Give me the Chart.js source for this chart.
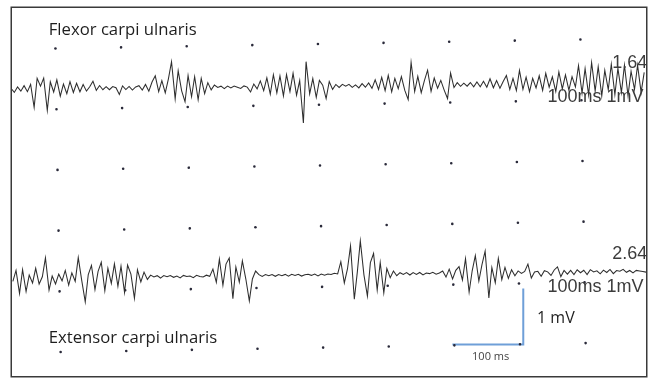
<!DOCTYPE html>
<html>
<head>
<meta charset="utf-8">
<title>EMG – flexor / extensor carpi ulnaris</title>
<script src="https://cdn.jsdelivr.net/npm/chart.js@4.4.0/dist/chart.umd.min.js"></script>
<style>
  html, body { margin: 0; padding: 0; background: #fff; }
  #emg { display: block; }
</style>
</head>
<body>
<canvas id="emg" width="654" height="380"></canvas>
<script>
// ---- data ----
// one sample every 5 ms, amplitude in mV relative to each trace's baseline
const SAMPLE_MS = 5;

const flexorMv = [
  0.02,-0.05,0.04,-0.03,0.06,-0.04,0.08,-0.30,0.18,0.05,
  0.18,-0.35,0.12,-0.05,0.15,-0.12,0.08,-0.08,0.12,-0.06,
  0.09,-0.05,0.07,-0.04,0.03,0.12,-0.03,0.05,-0.02,0.03,
  -0.02,0.03,0.01,-0.10,0.04,-0.02,0.03,-0.03,0.02,0.04,
  -0.03,0.06,-0.05,0.10,0.20,-0.06,0.12,-0.08,0.15,0.43,
  -0.18,0.28,-0.05,-0.23,0.20,-0.15,0.18,-0.20,0.15,-0.10,
  0.08,-0.04,0.04,0.00,0.02,-0.02,0.02,-0.01,0.02,0.00,
  -0.02,0.02,0.00,-0.08,0.05,-0.03,0.10,-0.06,0.15,-0.12,
  0.20,-0.10,0.18,-0.15,0.20,-0.08,0.22,-0.14,0.10,-0.60,
  0.41,-0.12,0.13,-0.18,0.10,0.02,-0.20,0.08,-0.05,0.03,
  -0.02,0.03,0.00,0.03,-0.02,0.02,-0.03,0.04,-0.02,0.05,
  -0.04,0.10,-0.06,0.14,-0.08,0.17,-0.10,0.12,-0.05,0.15,
  -0.08,-0.23,0.38,-0.10,0.15,-0.12,0.08,0.25,-0.10,0.12,
  -0.05,0.08,-0.08,-0.22,0.20,-0.04,0.04,-0.02,0.03,-0.02,
  0.04,-0.03,0.05,-0.03,0.06,-0.04,0.10,-0.05,0.07,-0.06,
  0.05,0.15,-0.08,0.10,-0.10,0.23,-0.08,0.12,-0.12,0.10,
  -0.06,0.14,-0.10,0.18,-0.05,0.12,-0.12,0.20,-0.08,0.15,
  -0.10,0.12,-0.05,0.30,-0.15,0.25,-0.18,0.35,-0.12,0.28,
  -0.20,0.22,-0.10,0.32,-0.18,0.25,-0.15,0.30,-0.20,0.20,
  -0.10,0.30,-0.15,0.18
];

const extensorMv = [
  -0.05,0.13,-0.25,0.14,-0.22,0.05,-0.08,0.16,-0.10,0.02,
  0.33,-0.20,0.03,-0.10,0.06,-0.05,0.12,-0.12,0.08,-0.06,
  0.33,-0.05,-0.40,0.05,0.20,-0.20,0.10,0.25,-0.22,0.15,
  -0.10,0.22,-0.15,0.18,-0.25,0.20,0.05,-0.35,0.12,-0.08,
  0.08,-0.04,0.03,0.00,0.02,-0.02,0.02,0.00,0.02,-0.01,
  0.01,-0.02,0.02,0.00,0.01,-0.02,0.02,0.00,-0.01,0.02,
  0.00,0.12,-0.10,0.28,-0.15,0.20,0.30,-0.37,0.15,-0.10,
  0.25,-0.05,-0.41,-0.05,0.08,0.02,-0.01,0.02,0.00,0.02,
  -0.01,0.02,0.00,0.02,-0.01,0.02,0.00,0.02,-0.01,0.01,
  0.02,0.00,0.02,-0.01,0.02,0.00,0.02,0.01,0.03,0.02,
  0.22,-0.13,0.10,0.48,-0.40,0.05,0.56,0.00,-0.35,0.20,
  0.35,-0.25,0.20,-0.30,0.10,-0.05,0.06,-0.02,0.03,0.00,
  0.03,-0.01,0.03,0.00,0.03,-0.01,0.02,0.01,0.03,0.00,
  0.02,0.05,-0.05,0.08,-0.08,0.06,0.12,-0.10,0.25,-0.30,
  0.05,0.30,-0.12,0.15,0.37,-0.40,0.10,-0.15,0.25,-0.10,
  0.10,-0.08,0.06,-0.04,0.04,0.00,0.03,0.15,-0.08,0.02,
  0.03,-0.05,0.04,0.02,-0.04,0.05,0.10,-0.06,0.04,-0.02,
  0.04,-0.03,0.05,0.00,0.04,-0.03,0.05,0.01,0.03,-0.02,
  0.04,0.00,0.05,-0.02,0.03,0.02,0.05,0.00,0.03,-0.01,
  0.03,0.02,0.01,0.00
];

// trace baselines on the sheet (mV)
const flexorBase = -0.70;
const extensorBase = -3.81;

// dotted grid: one dot per 100 ms / 1 mV division
const gridMs = [70, 170, 270, 370, 470, 570, 670, 770, 870];
const gridMv = [0, -1, -2, -3, -4, -5];

// calibration bar: 100 ms horizontal, 1 mV vertical
const scaleBarMs = [671, 779, 779];
const scaleBarMv = [-4.95, -4.95, -4.03];

// ---- chart ----
(function () {
  'use strict';

  const X_MAX = 966;
  const Y_MIN = -5.47, Y_MAX = 0.59;
  // the scanned sheet sits slightly rotated; the traces drift a little less than the dot grid
  const GRID_TILT = -0.0171;
  const TRACE_TILT = -0.0097;

  const toPoints = (vals, base) => vals.map((v, i) => ({ x: i * SAMPLE_MS, y: base + v }));

  const dots = [];
  gridMv.forEach(mv => gridMs.forEach(ms => dots.push({ x: ms, y: mv })));

  const bar = scaleBarMs.map((ms, i) => ({ x: ms, y: scaleBarMv[i] }));

  // rotate the recording (traces + dots) but not the annotations
  const tiltPlugin = {
    id: 'tilt',
    beforeDatasetDraw(chart, args) {
      const ds = chart.data.datasets[args.index];
      if (!ds.tilt) return;
      const { ctx, chartArea: a } = chart;
      ctx.save();
      ctx.beginPath();
      ctx.rect(a.left, a.top, a.width, a.height);
      ctx.clip();
      const cx = (a.left + a.right) / 2, cy = (a.top + a.bottom) / 2;
      ctx.translate(cx, cy);
      ctx.rotate(ds.tilt);
      ctx.translate(-cx, -cy);
    },
    afterDatasetDraw(chart, args) {
      if (chart.data.datasets[args.index].tilt) chart.ctx.restore();
    }
  };

  // texts and frame
  const labelPlugin = {
    id: 'labels',
    afterDraw(chart) {
      const { ctx, chartArea: a } = chart;
      const xs = chart.scales.x, ys = chart.scales.y;
      const px = (ms) => xs.getPixelForValue(ms);
      const py = (mv) => ys.getPixelForValue(mv);

      ctx.save();
      ctx.beginPath();
      ctx.rect(a.left, a.top, a.width, a.height);
      ctx.clip();

      // recorder read-outs
      ctx.fillStyle = '#3c3c3c';
      ctx.font = '18px "Liberation Sans", Arial, sans-serif';
      ctx.textBaseline = 'alphabetic';
      ctx.textAlign = 'right';
      ctx.fillText('1.64', px(968), py(-0.39));
      ctx.fillText('2.64', px(968), py(-3.55));
      ctx.textAlign = 'left';
      ctx.fillText('100ms 1mV', px(816), py(-0.95));
      ctx.fillText('100ms 1mV', px(816), py(-4.09));

      // annotations
      ctx.fillStyle = '#1e1e1e';
      ctx.font = '16.7px "Open Sans", sans-serif';
      ctx.fillText('Flexor carpi ulnaris', px(56), py(0.15));
      ctx.fillText('Extensor carpi ulnaris', px(56), py(-4.93));
      ctx.font = '16px "Open Sans", sans-serif';
      ctx.fillText('1 mV', px(800), py(-4.59));
      ctx.fillStyle = '#444';
      ctx.font = '11px "Open Sans", sans-serif';
      ctx.fillText('100 ms', px(701), py(-5.21));
      ctx.restore();

      // frame
      ctx.save();
      ctx.strokeStyle = '#3a3a3a';
      ctx.lineWidth = 1.5;
      ctx.strokeRect(a.left - 0.75, a.top - 0.75, a.width + 1.5, a.height + 1.5);
      ctx.restore();
    }
  };

  new Chart(document.getElementById('emg').getContext('2d'), {
    type: 'line',
    data: {
      datasets: [
        {
          label: 'Flexor carpi ulnaris',
          data: toPoints(flexorMv, flexorBase),
          borderColor: '#2e2e2e', borderWidth: 1.05,
          pointRadius: 0, tension: 0, clip: false, tilt: TRACE_TILT
        },
        {
          label: 'Extensor carpi ulnaris',
          data: toPoints(extensorMv, extensorBase),
          borderColor: '#2e2e2e', borderWidth: 1.05,
          pointRadius: 0, tension: 0, clip: false, tilt: TRACE_TILT
        },
        {
          type: 'scatter',
          label: 'grid',
          data: dots,
          showLine: false,
          pointRadius: 1.3, pointBorderWidth: 0,
          pointBackgroundColor: '#2a2a3a',
          clip: false, tilt: GRID_TILT
        },
        {
          label: 'calibration',
          data: bar,
          borderColor: '#6f9fd8', borderWidth: 2,
          pointRadius: 0, tension: 0
        }
      ]
    },
    options: {
      responsive: false,
      animation: false,
      devicePixelRatio: 1,
      layout: { padding: { left: 12, right: 8, top: 8, bottom: 2 } },
      plugins: { legend: { display: false }, tooltip: { enabled: false } },
      scales: {
        x: { type: 'linear', min: 0, max: X_MAX, display: false },
        y: { type: 'linear', min: Y_MIN, max: Y_MAX, display: false }
      }
    },
    plugins: [tiltPlugin, labelPlugin]
  });
})();
</script>
</body>
</html>
